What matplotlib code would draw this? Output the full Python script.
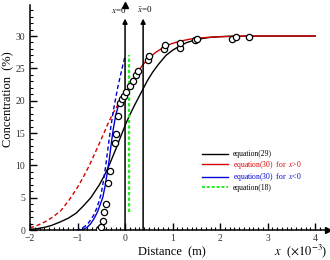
import numpy as np
import matplotlib
matplotlib.use("Agg")
import matplotlib.pyplot as plt
from matplotlib.ticker import MultipleLocator
from matplotlib.lines import Line2D

plt.rcParams['font.family'] = 'serif'
plt.rcParams['font.serif'] = ['Liberation Serif', 'DejaVu Serif']
plt.rcParams['mathtext.fontset'] = 'stix'

# data (x in 1e-3 m, concentration in %)
eq29_x = [-2.0, -1.85, -1.7, -1.55, -1.38, -1.2, -1.03, -0.88, -0.72, -0.54,
          -0.43, -0.33, -0.2, -0.1, 0.02, 0.1, 0.2, 0.3, 0.37, 0.47, 0.58,
          0.7, 0.86, 1.0, 1.16, 1.3, 1.48, 1.65, 1.8, 2.0, 2.2, 2.6, 4.0]
eq29_y = [0.1, 0.2, 0.4, 0.7, 1.2, 1.8, 2.6, 3.7, 5.0, 7.0,
          8.5, 10.1, 12.4, 14.3, 16.5, 17.8, 19.3, 20.7, 21.7, 23.1, 24.4,
          25.6, 27.0, 27.8, 28.5, 29.0, 29.4, 29.65, 29.8, 29.9, 29.97, 30.0, 30.0]

red_pos_x = [0.0, 0.05, 0.11, 0.2, 0.27, 0.38, 0.5, 0.65, 0.8, 0.97, 1.16,
             1.35, 1.5, 1.75, 2.0, 2.5, 3.0, 4.0]
red_pos_y = [21.0, 21.7, 22.4, 23.6, 24.5, 25.6, 26.6, 27.5, 28.2, 28.8, 29.2,
             29.5, 29.65, 29.8, 29.9, 29.97, 30.0, 30.0]

red_neg_x = [-2.0, -1.85, -1.7, -1.52, -1.35, -1.18, -1.0, -0.87, -0.75, -0.64,
             -0.54, -0.45, -0.35, -0.25, -0.15, -0.07, 0.0]
red_neg_y = [0.3, 0.7, 1.2, 2.0, 3.0, 4.6, 6.6, 8.3, 10.0, 11.8,
             13.4, 14.9, 16.6, 18.1, 19.4, 20.3, 21.0]

blue_x = [-0.95, -0.88, -0.8, -0.72, -0.65, -0.58, -0.52, -0.47, -0.42, -0.38,
          -0.33, -0.29, -0.25, -0.2, -0.15, -0.1, -0.05, 0.0]
blue_y = [0.0, 0.1, 0.4, 1.0, 1.8, 2.8, 4.0, 5.0, 6.8, 8.6,
          11.0, 13.4, 15.5, 17.6, 19.0, 20.0, 20.6, 21.0]

blue_ext_x = [-1.03, -0.96, -0.9, -0.84, -0.78, -0.72, -0.66, -0.6, -0.55, -0.5,
              -0.45, -0.4, -0.35, -0.3, -0.25, -0.2, -0.15, -0.1, -0.05, 0.0]
blue_ext_y = [0.0, 0.1, 0.3, 0.6, 1.0, 1.6, 2.3, 3.3, 4.4, 5.7,
              7.8, 10.3, 13.2, 15.9, 18.3, 20.3, 22.2, 23.8, 25.4, 26.9]

eq18_x = [0.08, 0.08]
eq18_y = [2.8, 27.0]

meas_x = [-0.55, -0.50, -0.47, -0.45, -0.40, -0.35, -0.32, -0.22, -0.20, -0.15,
          -0.11, -0.06, -0.03, 0.02, 0.11, 0.16, 0.23, 0.27, 0.48, 0.51,
          0.81, 0.83, 1.16, 1.16, 1.48, 1.52, 2.25, 2.33, 2.60]
meas_y = [0.15, 0.4, 1.4, 2.8, 4.0, 7.2, 9.2, 13.5, 14.9, 17.6,
          19.6, 20.2, 20.8, 21.4, 22.3, 23.0, 24.0, 24.6, 26.3, 26.9,
          28.0, 28.6, 28.1, 28.9, 29.4, 29.5, 29.5, 29.8, 29.8]

x_zero = 0.0
x_tilde_zero = 0.38

red = '#d40000'
blue = '#0000d0'
green = '#22ee22'

fig = plt.figure(figsize=(3.3, 2.6), dpi=100)
ax = fig.add_axes([30/330, 30/260, 298/330, 225/260])

ax.plot(eq29_x, eq29_y, color='k', lw=1.0)
ax.plot(red_neg_x, red_neg_y, color=red, lw=1.0, ls=(0, (3, 2)))
ax.plot(red_pos_x, red_pos_y, color=red, lw=1.0)
ax.plot(blue_ext_x, blue_ext_y, color=blue, lw=1.0, ls=(0, (3, 2)))
ax.plot(blue_x, blue_y, color=blue, lw=1.0)
ax.plot(eq18_x, eq18_y, color=green, lw=1.6, ls=(0, (1.5, 1)))
ax.plot(meas_x, meas_y, 'o', mfc='white', mec='k', ms=4.5, mew=0.9, zorder=5)

# x=0 and x~=0 markers
for xv, lab, dx in [(x_zero, r'$x$=0', -0.14), (x_tilde_zero, r'$\tilde{x}$=0', 0.04)]:
    ax.annotate('', xy=(xv, 32.7), xytext=(xv, 0),
                arrowprops=dict(arrowstyle='-|>', color='k', lw=1.1,
                                mutation_scale=7, shrinkA=0, shrinkB=0))
    ax.text(xv + dx, 34.0, lab, ha='center', va='center', fontsize=6.5)

ax.set_xlim(-2, 4.27)
ax.set_ylim(0, 34.8)
ax.spines['top'].set_visible(False)
ax.spines['right'].set_visible(False)
ax.spines['left'].set_linewidth(1.1)
ax.spines['bottom'].set_linewidth(1.1)
ax.plot(1, 0, '>k', ms=4, transform=ax.get_yaxis_transform(), clip_on=False)
ax.plot(0, 1, '^k', ms=4, transform=ax.get_xaxis_transform(), clip_on=False)

ax.set_xticks([-2, -1, 0, 1, 2, 3, 4])
ax.set_yticks([0, 5, 10, 15, 20, 25, 30])
ax.xaxis.set_minor_locator(MultipleLocator(0.1))
ax.yaxis.set_minor_locator(MultipleLocator(1))
ax.tick_params(which='both', direction='in', labelsize=7, colors='k',
               labelcolor='#333333')
ax.tick_params(which='major', length=5, width=1)
ax.tick_params(which='minor', length=2.5, width=0.8)
ax.tick_params(axis='x', pad=3)

fig.text(8/330, 1 - 99/260, 'Concentration  (%)', rotation=90,
         ha='center', va='center', fontsize=9)
fig.text(172/330, 8/260, 'Distance  (m)', ha='center', va='center', fontsize=9)
fig.text(301/330, 9/260, r'$x$  ($\times10^{-3}$)', ha='center', va='center',
         fontsize=9)

handles = [Line2D([], [], color='k', lw=1.0),
           Line2D([], [], color=red, lw=1.0),
           Line2D([], [], color=blue, lw=1.0),
           Line2D([], [], color=green, lw=1.4, ls=(0, (1.5, 1)))]
labels = ['equation(29)', r'equation(30)  for  $x$>0',
          r'equation(30)  for  $x$<0', 'equation(18)']
ax.legend(handles, labels, frameon=False, fontsize=5.5, handlelength=3.4,
          handletextpad=0.6, labelspacing=0.08, loc='upper left',
          bbox_to_anchor=(0.555, 0.385),
          labelcolor=['k', red, blue, 'k'])

fig.savefig('out.png', dpi=100)
